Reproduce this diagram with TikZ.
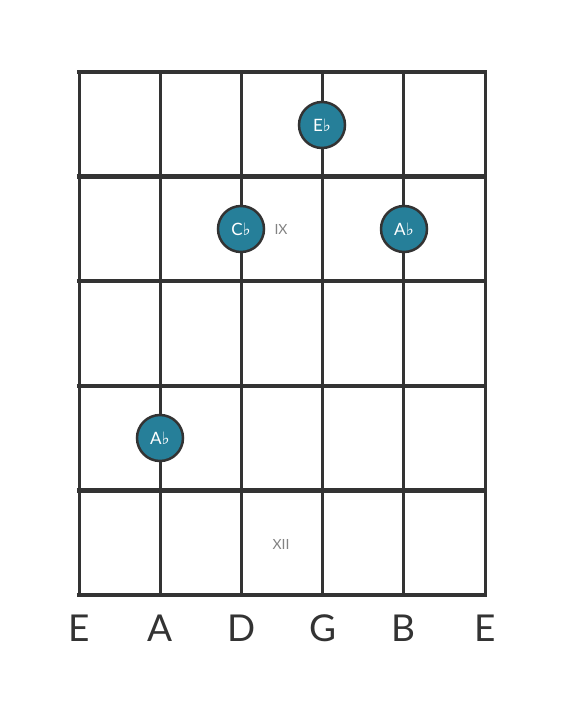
\documentclass[tikz,border=0pt]{standalone}
\usepackage{fontspec}
\setmainfont{Lato}
\newfontfamily\flatfont{DejaVu Sans}
\newcommand{\fl}{{\flatfont\char"266D}}
\definecolor{linegray}{RGB}{51,51,51}
\definecolor{noteblue}{RGB}{38,127,153}
\definecolor{markgray}{RGB}{130,130,130}
\begin{document}
\begin{tikzpicture}[x=1pt,y=-1pt,
        fret/.style={draw=linegray,line width=4.5pt},
        gstring/.style={draw=linegray,line width=3pt},
        note/.style={circle,draw=linegray,line width=2.5pt,fill=noteblue,
                        inner sep=0pt,minimum size=46pt,text=white,
                        font=\fontsize{17}{17}\selectfont},
        fretmark/.style={text=markgray,font=\fontsize{14}{14}\selectfont},
        strname/.style={text=linegray,font=\fontsize{37}{37}\selectfont}]
        \useasboundingbox (0,0) rectangle (566,711);

        % strings and frets
        \foreach \i in {0,...,5}
            \draw[gstring] ({79+81.2*\i},72) -- ({79+81.2*\i},595);
        \foreach \j in {0,...,5}
            \draw[fret] (76.75,{72+104.6*\j}) -- (487.25,{72+104.6*\j});

        % notes
        \node[note] (eflat) at (322,125) {E\fl};
        \node[note] (cflat) at (241,229) {C\fl};
        \node[note] (aflathi) at (404,229) {A\fl};
        \node[note] (aflatlo) at (160,438) {A\fl};

        % fret numbers
        \node[fretmark] (ix) at (281,229) {IX};
        \node[fretmark] (xii) at (281,544) {XII};

        % string names
        \foreach \s [count=\i from 0] in {E,A,D,G,B,E}
            \node[strname] (name\i) at ({79+81.2*\i},628) {\s};
\end{tikzpicture}
\end{document}
